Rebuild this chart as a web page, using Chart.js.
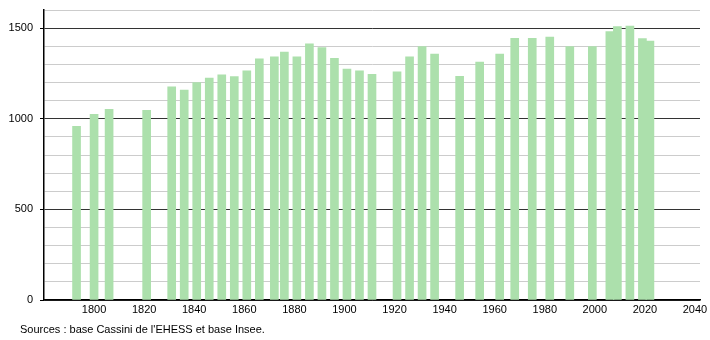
<!DOCTYPE html>
<html>
<head>
<meta charset="utf-8">
<script src="https://cdn.jsdelivr.net/npm/chart.js@4"></script>
<style>
  body { margin: 0; background: #fff; }
  #wrap { position: relative; width: 710px; height: 340px; }
  #src { position: absolute; left: 20px; top: 323px; font: 11px "Liberation Sans", Arial, sans-serif; color: #000; }
</style>
</head>
<body>
<div id="wrap">
  <canvas id="c" width="710" height="340"></canvas>
  <div id="src">Sources : base Cassini de l'EHESS et base Insee.</div>
</div>
<script>
// census years and population
var years = [1793, 1800, 1806, 1821, 1831, 1836, 1841, 1846, 1851, 1856, 1861, 1866, 1872, 1876, 1881, 1886, 1891, 1896, 1901, 1906, 1911,
             1921, 1926, 1931, 1936, 1946, 1954, 1962, 1968, 1975, 1982, 1990, 1999, 2006, 2009, 2014, 2019, 2022];
var population = [958, 1025, 1052, 1047, 1176, 1158, 1200, 1224, 1243, 1232, 1265, 1330, 1341, 1368, 1341, 1414, 1392, 1333, 1274, 1265, 1245,
                  1259, 1341, 1398, 1357, 1234, 1313, 1357, 1444, 1444, 1450, 1398, 1398, 1481, 1509, 1511, 1442, 1429];
var xTicks = [1800, 1820, 1840, 1860, 1880, 1900, 1920, 1940, 1960, 1980, 2000, 2020, 2040];

var points = [];
for (var i = 0; i < years.length; i++) {
    points.push({x: years[i], y: population[i]});
}

var font = {family: '"Liberation Sans", Arial, sans-serif', size: 11};

new Chart(document.getElementById('c'), {
    type: 'bar',
    data: {
        datasets: [{
            data: points,
            backgroundColor: 'rgb(172,224,172)',
            borderWidth: 0,
            barThickness: 8
        }]
    },
    options: {
        responsive: false,
        animation: false,
        layout: {padding: {top: 10, right: 10, left: 0, bottom: 0}},
        plugins: {legend: {display: false}, tooltip: {enabled: false}},
        scales: {
            x: {
                type: 'linear',
                offset: false,
                min: 1780,
                max: 2042,
                afterBuildTicks: function (scale) {
                    scale.ticks = xTicks.map(function (v) { return {value: v}; });
                },
                afterFit: function (scale) {
                    scale.height = 40;
                    scale.paddingLeft = 0;
                    scale.paddingRight = 0;
                },
                grid: {display: false, drawTicks: false},
                border: {color: '#000', width: 1.5},
                ticks: {
                    color: '#000', font: font, padding: 3, maxRotation: 0, autoSkip: false,
                    callback: function (v) { return String(v); }
                }
            },
            y: {
                min: 0,
                max: 1600,
                afterFit: function (scale) {
                    scale.width = 44;
                    scale.paddingTop = 0;
                    scale.paddingBottom = 0;
                },
                border: {color: '#000', width: 1.5},
                grid: {
                    color: function (ctx) {
                        return ctx.tick && ctx.tick.value % 500 === 0 ? '#333' : '#ccc';
                    },
                    tickColor: function (ctx) {
                        return ctx.tick && ctx.tick.value % 500 === 0 ? '#000' : 'rgba(0,0,0,0)';
                    },
                    tickLength: 4
                },
                ticks: {
                    stepSize: 100,
                    color: '#000',
                    font: font,
                    padding: 7,
                    autoSkip: false,
                    callback: function (v) { return v % 500 === 0 ? String(v) : ''; }
                }
            }
        }
    }
});
</script>
</body>
</html>
